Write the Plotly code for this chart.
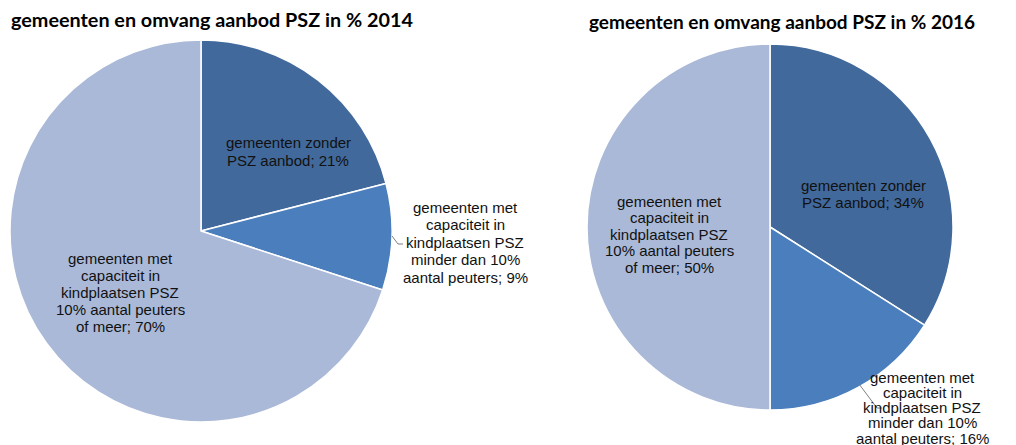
import plotly.graph_objects as go

W, H = 1016, 445
OFF = 8  # browser body margin

labels = ["gemeenten zonder PSZ aanbod",
          "gemeenten met capaciteit in kindplaatsen PSZ minder dan 10% aantal peuters",
          "gemeenten met capaciteit in kindplaatsen PSZ 10% aantal peuters of meer"]
values_2014 = [21, 9, 70]
values_2016 = [34, 16, 50]
titles = ["gemeenten en omvang aanbod PSZ in % 2014",
          "gemeenten en omvang aanbod PSZ in % 2016"]
label_lines = [
    ["gemeenten zonder", "PSZ aanbod; {}%"],
    ["gemeenten met", "capaciteit in", "kindplaatsen PSZ", "minder dan 10%", "aantal peuters; {}%"],
    ["gemeenten met", "capaciteit in", "kindplaatsen PSZ", "10% aantal peuters", "of meer; {}%"],
]
colors = ["#41699B", "#4B7EBC", "#AAB9D8"]


def px(x, y):
    return (x - OFF) / W, (H - (y - OFF)) / H


def dom(cx, cy, r):
    x0, y1 = px(cx - r, cy - r)
    x1, y0 = px(cx + r, cy + r)
    return dict(x=[x0, x1], y=[y0, y1])


fig = go.Figure()
for vals, d in [(values_2014, dom(201, 231, 191)), (values_2016, dom(770, 227, 183))]:
    fig.add_trace(go.Pie(
        labels=labels, values=vals, sort=False, direction="clockwise", rotation=0,
        marker=dict(colors=colors, line=dict(color="white", width=1.5)),
        textinfo="none", hoverinfo="label+percent", domain=d, showlegend=False,
    ))

# label first-line position (px) and line spacing for each slice of each pie
label_pos = [
    [(288, 143, 17), (465, 207, 17.5), (120, 258, 17.2)],
    [(863, 185, 17.5), (922, 377, 15.3), (669, 201, 16.5)],
]
annotations = []
for vals, pos in zip([values_2014, values_2016], label_pos):
    for i, v in enumerate(vals):
        cx, y0, dy = pos[i]
        for k, s in enumerate(label_lines[i]):
            x, y = px(cx, y0 + k * dy)
            annotations.append(dict(
                x=x, y=y, xref="paper", yref="paper", showarrow=False,
                text=s.format(v), align="center", xanchor="center", yanchor="middle",
                font=dict(family="Liberation Sans, Arial", size=15, color="#111111"),
            ))

for t, (x, y), fs in zip(titles, [(9, 19.5), (587, 22)], [19.8, 19.0]):
    xx, yy = px(x, y)
    annotations.append(dict(
        x=xx, y=yy, xref="paper", yref="paper", showarrow=False, text="<b>" + t + "</b>",
        xanchor="left", yanchor="middle",
        font=dict(family="Lato, Open Sans", size=fs, color="black"),
    ))


def path(points):
    s = ""
    for k, (x, y) in enumerate(points):
        px_, py_ = px(x, y)
        s += ("M" if k == 0 else "L") + f"{px_:.5f},{py_:.5f} "
    return s


shapes = [
    dict(type="path", xref="paper", yref="paper",
         path=path([(392, 236), (398, 244), (403, 244)]),
         line=dict(color="#7f7f7f", width=1)),
    dict(type="path", xref="paper", yref="paper",
         path=path([(859, 384), (877, 408), (882, 408)]),
         line=dict(color="#7f7f7f", width=1)),
]

fig.update_layout(
    width=W, height=H, margin=dict(l=0, r=0, t=0, b=0),
    paper_bgcolor="white", plot_bgcolor="white",
    annotations=annotations, shapes=shapes, showlegend=False,
)
fig.write_html("out.html")
